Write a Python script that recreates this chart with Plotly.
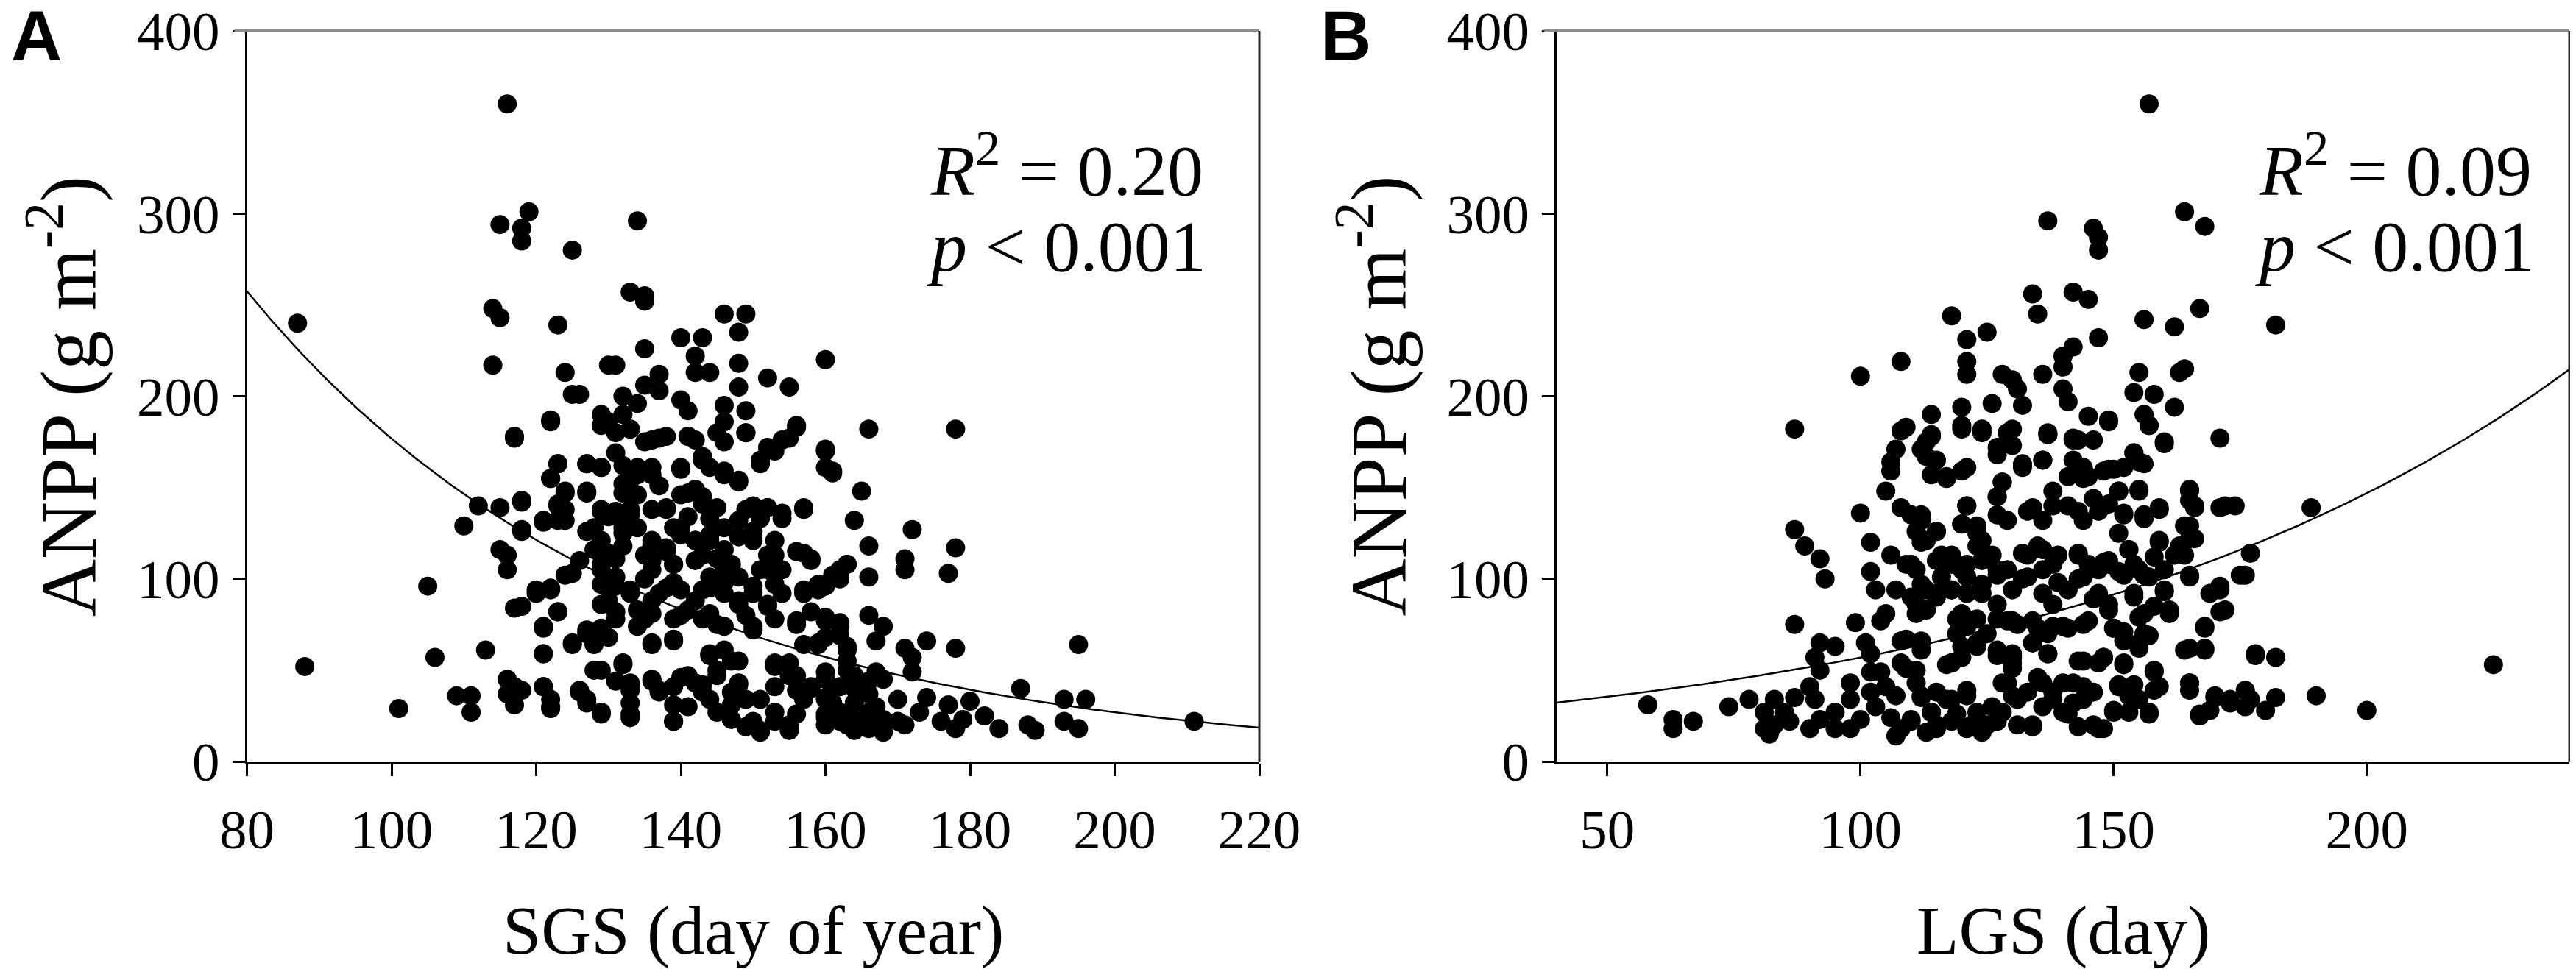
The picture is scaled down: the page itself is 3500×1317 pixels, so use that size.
import numpy as np
import plotly.graph_objects as go

W, H = 3500, 1317

# ---------------- data ----------------
# Panel A: SGS (day of year) vs ANPP (g m-2)
sgs_points = [
    (116,360),(119,301),(115,294),(118,292),(118,285),(134,296),(125,280),(133,257),(135,255),(135,252),
    (114,248),(115,243),(87,240),(123,239),(146,245),(149,245),(148,235),(140,232),(143,232),(142,222),
    (142,213),(144,213),(148,218),(148,205),(135,226),(114,217),(124,213),(130,217),(131,217),(125,201),
    (126,201),(137,212),(137,203),(135,206),(152,210),(149,192),(146,195),(146,186),(141,192),(140,198),
    (142,176),(132,200),(134,196),(132,190),(130,186),(129,190),(122,187),(117,178),(160,220),(155,205),
    (156,184),(155,177),(133,182),(135,175),(137,177),(141,178),(149,180),(146,175),(166,182),(178,182),
    (153,170),(151,165),(160,170),(160,161),(143,165),(146,159),(148,154),(140,160),(131,169),(132,162),
    (134,161),(133,154),(136,157),(137,151),(127,163),(129,161),(123,163),(122,155),(124,147),(123,141),
    (124,138),(123,132),(127,147),(121,131),(112,140),(115,139),(118,142),(118,127),(110,129),(115,116),
    (116,113),(116,105),(105,96),(117,84),(120,92),(122,95),(123,82),(121,73),(125,103),(126,110),
    (113,61),(106,57),(121,59),(101,29),(109,36),(111,36),(111,27),(116,45),(116,37),(117,31),
    (118,39),(121,41),(122,34),(122,29),(126,39),(127,32),(129,27),(128,50),(131,44),(132,53),
    (125,64),(127,72),(128,64),(130,68),(129,73),(133,42),(133,32),(133,26),(136,44),(137,39),
    (139,41),(139,31),(139,22),(136,64),(139,66),(141,47),(143,42),(144,34),(144,59),(145,50),
    (147,55),(148,42),(147,31),(149,34),(150,22),(151,17),(153,22),(155,17),(156,26),(153,52),
    (155,47),(156,39),(158,40),(160,34),(160,26),(88,52),
    (129,138),(130,134),(128,128),(129,121),(130,114),(132,128),(132,118),(131,111),(129,105),(131,96),
    (130,88),(131,82),(133,92),(134,83),(135,78),(136,88),(138,95),(136,105),(135,113),(136,119),
    (138,115),(139,108),(133,138),(134,146),(132,147),(136,138),(138,138),(139,128),(140,146),(142,149),
    (143,141),(144,133),(146,128),(144,121),(145,111),(147,108),(146,98),(144,95),(142,88),(140,80),
    (143,78),(145,75),(148,88),(149,80),(150,72),(150,96),(151,105),(152,113),(154,105),(154,92),
    (152,85),(151,133),(149,138),(152,139),(154,133),(150,121),(148,123),(141,134),(140,124),(142,121),
    (142,110),(139,98),(157,138),(156,115),(158,111),(157,92),(156,75),(158,82),(160,96),(160,77),
    (160,68),(157,64),
    (161,158),(165,148),(164,132),(172,127),(166,118),(178,117),(171,111),(171,105),(177,103),(166,101),
    (163,108),(162,105),(162,100),(160,97),(159,94),(166,80),(168,74),(167,66),(160,78),(162,76),
    (162,69),(159,64),(163,61),(171,62),(172,57),(172,49),(174,66),(178,62),(195,64),(160,45),
    (160,35),(163,50),(164,40),(166,44),(167,49),(168,45),(170,34),(174,35),(173,27),(177,31),
    (180,33),(182,25),(187,40),(193,34),(196,34),(211,22),(160,20),(162,22),(164,17),(166,18),
    (168,16),(170,22),(171,20),(176,22),(178,18),(179,23),(184,18),(188,20),(189,17),(193,22),
    (195,18),(161,40),(164,32),(166,27),(167,30),(162,27),(161,32),(166,37),(164,23),(168,23),
]

# Panel A: extra points read from a close-up of the dense core
sgs_core_points = [
    (117,177),(122,186),(129,184),(131,180),(133,182),(136,176),(138,178),(141,178),(145,180),(149,180),
    (152,172),(154,176),(156,183),(123,163),(122,155),(127,163),(129,161),(132,152),(134,157),(136,161),
    (137,151),(140,161),(143,167),(144,161),(146,157),(148,153),(151,163),(160,171),(161,159),(118,143),
    (124,148),(127,148),(123,140),(124,132),(121,132),(118,126),(129,137),(127,126),(128,116),(131,137),
    (133,135),(134,128),(132,125),(138,139),(141,147),(143,145),(145,139),(148,132),(150,140),(152,139),
    (154,136),(157,139),(140,128),(142,121),(144,124),(150,126),(153,121),(153,113),(157,114),(158,110),
    (136,121),(138,117),(136,110),(139,108),(129,108),(129,97),(131,101),(133,94),(135,100),(137,92),
    (140,94),(143,113),(146,116),(146,105),(144,101),(148,101),(152,105),(153,97),(150,92),(146,92),
    (143,94),(129,86),(131,78),(134,74),(136,81),(139,78),(141,83),(144,81),(146,74),(148,86),(152,86),
    (153,78),(150,74),(157,94),(159,97),(161,102),(163,108),(156,77),(160,79),(162,74),(159,65),
    (163,63),(163,55),(124,102),(120,94),(122,94),(118,85),(123,82),(121,74),(125,65),(127,70),
    (129,70),(121,59),(136,65),(139,67),(144,58),(146,61),(148,55),(153,54),(155,54),(145,47),
    (142,43),(140,46),(136,45),(133,43),(132,54),(129,50),(117,41),(121,41),(122,30),(126,38),
    (127,34),(129,26),(133,24),(133,39),(137,38),(139,22),(141,30),(143,38),(145,27),(147,23),
    (149,19),(151,16),(151,34),(153,27),(155,20),(157,34),(158,41),(160,24),(162,41),(163,20),
    (164,47),(160,49),(156,47),(153,41),(147,38),(148,43),
]

# Panel B: LGS (day) vs ANPP (g m-2)
lgs_points = [
    (157,360),(137,296),(164,301),(168,293),(146,292),(147,287),(147,280),(134,256),(142,257),(145,253),
    (135,245),(118,244),(156,242),(167,248),(162,238),(182,239),(125,235),(121,231),(147,232),(142,227),
    (140,222),(140,216),(108,219),(121,219),(121,212),(164,215),(163,213),(100,211),(136,212),(128,212),
    (130,209),(155,213),(140,204),(141,197),(154,202),(158,201),(131,204),(126,196),(132,195),(120,194),
    (162,194),(149,187),(145,189),(114,190),(87,182),(108,181),(171,177),(160,174),(120,182),(124,180),
    (129,180),(137,180),(142,177),(156,190),(157,184),(114,179),
    (107,171),(106,164),(106,159),(105,148),(100,136),(108,139),(110,135),(112,132),(111,126),(115,126),
    (112,120),(87,127),(89,118),(92,111),(93,100),(102,120),(102,104),(103,94),(106,113),(109,108),
    (111,105),(107,94),(110,90),(112,97),(115,92),(111,81),(113,83),(87,75),(99,76),(104,77),
    (105,81),(92,65),(95,63),(91,57),(92,50),(101,65),(102,59),(108,66),(112,66),(112,61),
    (108,54),(111,50),(118,54),(58,31),(63,23),(63,18),(67,22),(74,30),(78,34),(81,27),
    (83,34),(85,27),(87,35),(81,18),(83,20),(86,22),(82,15),(90,41),(91,34),(90,18),
    (92,23),(95,27),(98,43),(98,34),(95,18),(98,18),(100,23),(102,49),(104,49),(105,41),
    (102,38),(103,30),(107,36),(106,24),(108,18),(107,14),(112,36),(114,27),(110,22),(113,16),
    (115,20),(117,34),(119,26),(121,39),(122,20),(124,16),(126,30),(127,22),(127,61),(130,54),
    (129,43),(130,59),(130,36),(133,38),(134,20),(136,43),(138,34),(141,26),(142,43),(144,34),
    (146,20),(147,54),(144,55),(123,65),(120,63),(117,53),(134,65),(137,59),(119,78),(121,74),
    (125,70),(129,77),(131,75),(135,73),(137,70),(140,74),(144,75),(118,94),(121,101),(124,92),
    (127,86),(130,94),(133,101),(136,92),(138,86),(141,94),(144,101),(146,89),(115,110),(118,113),
    (120,105),(124,110),(127,105),(133,113),(136,116),(138,108),(143,113),(145,108),(121,140),(120,130),
    (123,125),(127,135),(129,132),(133,137),(136,132),(138,148),(141,140),(144,132),(146,144),(113,175),
    (113,167),(114,157),(117,155),(120,159),(120,184),(127,172),(130,182),(132,161),(128,153),(127,145),
    (137,179),(136,165),(142,176),(144,161),(144,155),
    (154,169),(155,164),(152,161),(149,160),(148,159),(151,148),(155,149),(165,149),(165,143),(166,139),
    (148,140),(152,135),(156,133),(159,138),(171,139),(174,140),(189,139),(164,129),(165,122),(151,125),
    (159,120),(153,116),(154,108),(158,112),(162,113),(163,118),(148,109),(149,108),(152,102),(156,102),
    (160,105),(165,102),(177,114),(175,102),(160,93),(154,90),(171,96),(169,92),(149,86),(155,79),
    (158,85),(161,81),(171,82),(168,73),(150,73),(156,70),(152,66),(155,62),(164,61),(168,61),
    (178,59),(182,57),(225,53),(148,57),(152,53),(158,50),(165,43),(165,39),(151,41),(154,42),
    (158,39),(155,34),(150,27),(153,27),(157,26),(148,18),(170,36),(173,32),(167,25),(169,28),
    (176,39),(176,30),(180,28),(182,35),(190,36),(200,28),
]

# Panel B: extra points read from a close-up of the dense core
lgs_core_points = [
    (109,183),(114,178),(112,171),(115,165),(117,156),(121,161),(124,182),(129,180),(130,173),(127,168),
    (132,163),(137,179),(143,176),(146,176),(136,165),(142,165),(141,156),(145,156),(149,186),(157,184),
    (154,169),(156,163),(150,160),(160,175),(128,153),(127,145),(121,140),(120,130),(123,129),(124,121),
    (112,135),(115,126),(113,121),(110,108),(116,113),(118,108),(116,101),(134,139),(138,140),(143,137),
    (147,137),(149,141),(151,148),(152,136),(155,148),(156,135),(159,139),(165,148),(166,140),(172,140),
    (165,129),(166,122),(159,121),(153,116),(164,113),(132,114),(135,118),(139,113),(143,114),(136,105),
    (132,100),(129,105),(126,113),(123,118),(121,108),(124,97),(127,102),(139,98),(143,100),(147,105),
    (149,110),(151,104),(155,105),(157,101),(165,101),(160,94),(161,83),(154,92),(156,81),(171,94),
    (172,83),(176,102),(168,74),(165,62),(168,62),(178,58),(165,43),(170,35),(167,26),(173,34),
    (177,34),(118,94),(121,92),(115,90),(111,86),(113,94),(109,67),(112,65),(120,81),(119,70),
    (123,78),(127,78),(130,77),(134,77),(138,74),(141,73),(145,77),(147,92),(149,83),(150,73),
    (152,71),(155,65),(157,69),(123,63),(120,57),(118,54),(127,58),(130,57),(134,65),(137,59),
    (143,55),(148,57),(152,54),(158,49),(159,41),(151,42),(153,36),(150,28),(157,27),(109,51),
    (111,43),(112,35),(115,38),(118,34),(114,27),(110,23),(115,18),(118,22),(121,36),(123,27),
    (121,18),(125,20),(128,43),(130,51),(128,27),(131,34),(131,20),(134,19),(135,46),(138,38),
    (136,30),(140,43),(142,32),(144,41),(143,19),(147,18),(146,38),(140,27),
]

all_sgs = sgs_points + sgs_core_points
all_lgs = lgs_points + lgs_core_points
sgs_day = [p[0] for p in all_sgs]
sgs_anpp = [p[1] for p in all_sgs]
lgs_day = [p[0] for p in all_lgs]
lgs_anpp = [p[1] for p in all_lgs]

# fitted exponential regressions: ANPP = a * exp(b * x)
sgs_fit_a, sgs_fit_b = 1159.6, -0.01881
lgs_fit_a, lgs_fit_b = 22.03, 0.009486

sgs_range = [80, 220]
lgs_range = [40, 240]
sgs_ticks = [80, 100, 120, 140, 160, 180, 200, 220]
lgs_ticks = [50, 100, 150, 200]
anpp_range = [0, 400]
anpp_ticks = [0, 100, 200, 300, 400]

stats_a = ("0.20", "0.001")
stats_b = ("0.09", "0.001")

# ---------------- layout helpers ----------------
def px_x(v):
    return v / W

def px_y(v):
    return 1 - v / H

A_left, A_right = 327.5, 1703.0
B_left, B_right = 2107.0, 3483.0
P_top, P_bot = 34.0, 1027.0

SERIF = "Liberation Serif"
SANS = "Liberation Sans"

fig = go.Figure()

for xs, ys, xa, ya in [(sgs_day, sgs_anpp, "x", "y"), (lgs_day, lgs_anpp, "x2", "y2")]:
    fig.add_trace(go.Scatter(
        x=xs, y=ys, mode="markers", xaxis=xa, yaxis=ya,
        marker=dict(size=26, color="black", line=dict(width=0)),
        showlegend=False, hoverinfo="skip",
    ))

for rng, a, b, xa, ya in [(sgs_range, sgs_fit_a, sgs_fit_b, "x", "y"),
                          (lgs_range, lgs_fit_a, lgs_fit_b, "x2", "y2")]:
    xx = np.linspace(rng[0], rng[1], 300)
    fig.add_trace(go.Scatter(
        x=xx, y=a * np.exp(b * xx), mode="lines", xaxis=xa, yaxis=ya,
        line=dict(color="black", width=2.5), showlegend=False, hoverinfo="skip",
    ))

tickfont = dict(family=SERIF, size=75, color="black")
base_axis = dict(showgrid=False, zeroline=False, showline=True, linecolor="black", linewidth=3,
                 ticks="outside", ticklen=17, tickwidth=3, tickcolor="black",
                 tickfont=tickfont, automargin=False, ticklabeloverflow="allow")

fig.update_layout(
    width=W, height=H, paper_bgcolor="white", plot_bgcolor="white",
    margin=dict(l=0, r=0, t=0, b=0),
    xaxis=dict(**base_axis, anchor="y", range=sgs_range, tickvals=sgs_ticks,
               ticklabelstandoff=8, domain=[px_x(A_left), px_x(A_right)]),
    yaxis=dict(**base_axis, anchor="x", range=anpp_range, tickvals=anpp_ticks,
               ticklabelstandoff=2, domain=[px_y(P_bot), px_y(P_top)]),
    xaxis2=dict(**base_axis, anchor="y2", range=lgs_range, tickvals=lgs_ticks,
                ticklabelstandoff=8, domain=[px_x(B_left), px_x(B_right)]),
    yaxis2=dict(**base_axis, anchor="x2", range=anpp_range, tickvals=anpp_ticks,
                ticklabelstandoff=2, domain=[px_y(P_bot), px_y(P_top)]),
)

shapes = []
for left, right in [(A_left, A_right), (B_left, B_right)]:
    # grey top frame line (extends over the 400 tick)
    shapes.append(dict(type="line", xref="paper", yref="paper",
                       x0=px_x(left - 17), x1=px_x(right), y0=px_y(P_top), y1=px_y(P_top),
                       line=dict(color="#8c8c8c", width=4)))
    # right frame line
    shapes.append(dict(type="line", xref="paper", yref="paper",
                       x0=px_x(right), x1=px_x(right), y0=px_y(P_top), y1=px_y(P_bot),
                       line=dict(color="#222222", width=3)))
fig.update_layout(shapes=shapes)

ann = []
xtitle_font = dict(family=SERIF, size=94, color="black")
ytitle_font = dict(family=SERIF, size=108, color="black")
stat_font = dict(family=SERIF, size=98, color="black")
for left, right, letter, xtitle, stats, sx in [
        (A_left, A_right, "A", "SGS (day of year)", stats_a, 1254),
        (B_left, B_right, "B", "LGS (day)", stats_b, 3059)]:
    ann.append(dict(text=f"<b>{letter}</b>", xref="paper", yref="paper",
                    x=px_x(left - 322), y=px_y(40), xanchor="left", yanchor="middle", borderpad=0,
                    showarrow=False, font=dict(family=SANS, size=96, color="black")))
    ann.append(dict(text=xtitle, xref="paper", yref="paper",
                    x=px_x((left + right) / 2), y=px_y(1256), xanchor="center", yanchor="middle",
                    showarrow=False, font=xtitle_font))
    ann.append(dict(text="ANPP (g m<sup>-2</sup>)", xref="paper", yref="paper",
                    x=px_x(left - 250), y=px_y((P_top + P_bot) / 2), xanchor="center", yanchor="middle",
                    textangle=-90, showarrow=False, font=ytitle_font))
    ann.append(dict(text=f"<i>R</i><sup>2</sup> = {stats[0]}", xref="paper", yref="paper",
                    x=px_x(sx), y=px_y(217), xanchor="left", yanchor="middle",
                    showarrow=False, font=stat_font))
    ann.append(dict(text=f"<i>p</i> &lt; {stats[1]}", xref="paper", yref="paper",
                    x=px_x(sx - 5), y=px_y(327), xanchor="left", yanchor="middle",
                    showarrow=False, font=stat_font))
fig.update_layout(annotations=ann)

fig.write_html("out.html")
